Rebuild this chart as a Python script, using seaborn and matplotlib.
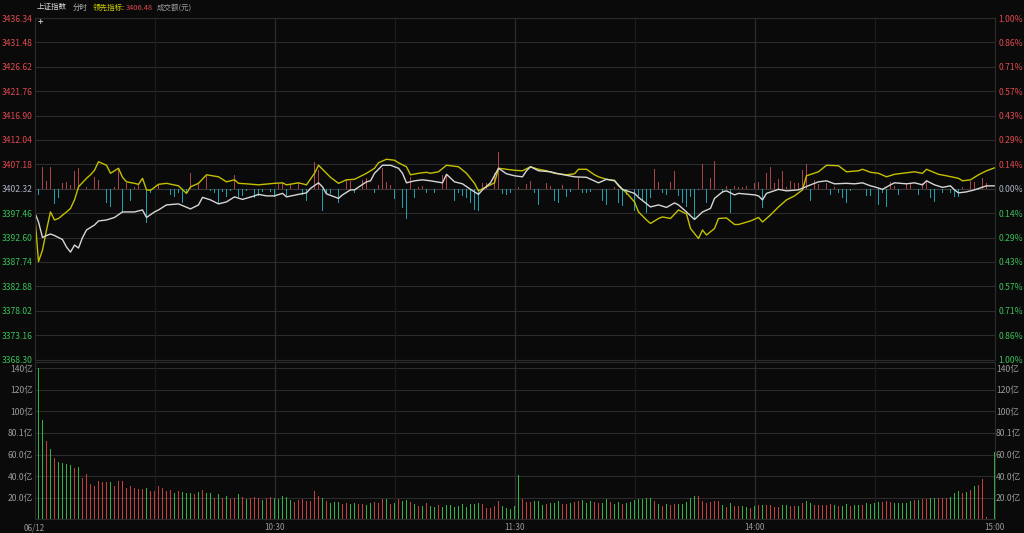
import matplotlib
matplotlib.use("Agg")
import matplotlib.pyplot as plt
import pandas as pd
import seaborn as sns

# ---------------- data ----------------
prev_close = 3402.32
price_ticks = [3368.30, 3373.16, 3378.02, 3382.88, 3387.74, 3392.60, 3397.46, 3402.32,
               3407.18, 3412.04, 3416.90, 3421.76, 3426.62, 3431.48, 3436.34]
price_labels = ["3368.30", "3373.16", "3378.02", "3382.88", "3387.74", "3392.60", "3397.46", "3402.32",
                "3407.18", "3412.04", "3416.90", "3421.76", "3426.62", "3431.48", "3436.34"]
pct_labels = ["1.00%", "0.86%", "0.71%", "0.57%", "0.43%", "0.29%", "0.14%", "0.00%",
              "0.14%", "0.29%", "0.43%", "0.57%", "0.71%", "0.86%", "1.00%"]
vol_ticks = [20, 40, 60, 80.1, 100, 120, 140]
vol_labels = ["20.0亿", "40.0亿", "60.0亿", "80.1亿", "100亿", "120亿", "140亿"]
time_ticks = [0, 60, 120, 180, 240]
time_labels = ["06/12", "10:30", "11:30", "14:00", "15:00"]

# index (white) line, minute index -> price
white_t = [0, 1, 2, 3, 4, 5, 6, 7, 8, 9, 10, 11, 12, 13, 15, 16, 18, 20, 22, 25, 27, 28, 30, 31,
           33, 36, 39, 41, 42, 44, 46, 48, 50, 52, 55, 56, 58, 60, 62, 63, 66, 68, 69, 71, 72, 73,
           76, 77, 79, 80, 83, 84, 85, 87, 89, 91, 92, 93, 95, 97, 99, 102, 103, 105, 107, 109,
           111, 112, 114, 116, 118, 120, 122, 123, 124, 126, 129, 131, 133, 135, 138, 141, 143,
           145, 147, 150, 151, 154, 156, 158, 160, 161, 163, 165, 167, 169, 170, 172, 173, 175,
           176, 180, 181, 182, 183, 186, 188, 191, 194, 196, 198, 200, 203, 205, 207, 209, 210,
           212, 214, 215, 218, 220, 222, 223, 225, 227, 229, 230, 231, 233, 235, 238, 240]
white_p = [3397.7, 3395.7, 3392.6, 3393.0, 3393.3, 3393.0, 3392.6, 3392.2, 3390.7, 3389.7, 3391.1,
           3390.5, 3392.6, 3394.1, 3395.1, 3395.9, 3396.1, 3396.6, 3397.7, 3397.7, 3398.1, 3396.6,
           3397.7, 3398.1, 3399.1, 3399.3, 3398.3, 3399.1, 3400.6, 3400.1, 3399.3, 3399.7, 3400.7,
           3400.2, 3400.9, 3401.2, 3400.9, 3400.9, 3401.4, 3400.7, 3401.2, 3401.5, 3402.4, 3403.5,
           3402.7, 3401.3, 3400.4, 3401.1, 3402.1, 3402.1, 3403.7, 3403.9, 3405.4, 3407.0, 3407.0,
           3406.4, 3405.4, 3403.5, 3403.9, 3404.1, 3403.9, 3403.5, 3405.2, 3403.7, 3403.3, 3402.2,
           3401.2, 3402.1, 3403.5, 3406.4, 3405.3, 3404.9, 3404.7, 3405.9, 3406.7, 3405.9, 3405.7,
           3405.3, 3405.0, 3404.7, 3404.6, 3403.5, 3404.2, 3403.9, 3402.2, 3401.4, 3400.6, 3398.7,
           3399.1, 3398.6, 3399.5, 3399.1, 3397.7, 3396.2, 3397.7, 3398.4, 3400.4, 3401.7, 3401.9,
           3401.1, 3401.4, 3401.1, 3400.9, 3400.1, 3401.4, 3402.2, 3401.9, 3402.1, 3403.1, 3403.7,
           3403.9, 3403.3, 3403.4, 3403.3, 3403.5, 3402.9, 3402.7, 3402.2, 3403.1, 3403.5, 3403.3,
           3403.5, 3403.1, 3403.9, 3403.1, 3402.6, 3402.9, 3402.1, 3401.5, 3401.7, 3402.1, 3402.9,
           3402.9]

# leading index (yellow) line
yellow_t = [0, 1, 2, 3, 4, 5, 6, 8, 9, 10, 11, 13, 14, 15, 16, 18, 19, 21, 22, 23, 25, 26, 27,
            28, 29, 31, 33, 36, 38, 39, 41, 43, 46, 48, 50, 51, 53, 56, 60, 62, 63, 66, 68, 70,
            71, 73, 74, 76, 78, 80, 83, 85, 86, 88, 90, 91, 93, 94, 96, 98, 99, 101, 103, 106,
            108, 110, 111, 113, 115, 116, 118, 120, 122, 124, 126, 128, 130, 133, 135, 136, 138,
            140, 141, 143, 145, 146, 148, 150, 151, 153, 154, 156, 157, 159, 161, 163, 164, 166,
            167, 168, 170, 171, 173, 175, 176, 179, 181, 182, 184, 186, 188, 190, 192, 193, 196,
            198, 201, 203, 206, 207, 209, 211, 213, 215, 217, 220, 222, 223, 226, 228, 231, 232,
            234, 236, 238, 240]
yellow_p = [3397.7, 3387.8, 3390.1, 3394.1, 3397.7, 3396.1, 3396.4, 3397.7, 3398.4, 3400.1, 3402.7,
            3404.4, 3405.1, 3406.0, 3407.7, 3407.0, 3405.4, 3406.4, 3404.6, 3403.7, 3403.4, 3403.2,
            3404.4, 3402.1, 3402.0, 3403.2, 3403.4, 3402.9, 3401.4, 3402.7, 3403.4, 3405.1, 3404.7,
            3403.7, 3404.1, 3403.4, 3403.3, 3403.1, 3403.4, 3403.5, 3403.1, 3403.5, 3403.1, 3405.4,
            3407.0, 3405.4, 3404.6, 3403.4, 3404.1, 3404.2, 3405.4, 3406.4, 3407.5, 3408.2, 3408.0,
            3407.5, 3406.7, 3405.1, 3405.4, 3405.6, 3405.4, 3405.7, 3407.0, 3406.7, 3405.4, 3403.4,
            3401.9, 3402.7, 3403.5, 3406.4, 3406.2, 3406.0, 3405.9, 3406.7, 3406.2, 3405.9, 3405.4,
            3405.1, 3405.3, 3406.2, 3406.2, 3405.1, 3404.7, 3404.2, 3404.0, 3402.9, 3401.5, 3399.7,
            3397.7, 3396.1, 3395.4, 3396.4, 3396.7, 3396.4, 3398.1, 3397.3, 3394.4, 3392.4, 3394.1,
            3393.1, 3394.4, 3396.4, 3396.5, 3395.2, 3395.2, 3395.9, 3396.6, 3395.7, 3397.1, 3398.7,
            3400.1, 3400.9, 3402.1, 3404.9, 3405.7, 3407.0, 3406.9, 3405.7, 3405.9, 3406.2, 3405.6,
            3405.4, 3404.7, 3405.2, 3405.4, 3405.7, 3405.4, 3406.2, 3405.2, 3404.9, 3404.4, 3403.9,
            3404.1, 3405.1, 3405.9, 3406.48]

# buy/sell strength bars (index points above / below previous close)
flow_t = [1, 2, 3, 4, 5, 6, 7, 8, 9, 10, 11, 13, 15, 16, 18, 19, 20, 21, 22, 23, 24, 25, 26, 28,
          29, 31, 34, 35, 36, 37, 38, 39, 41, 43, 44, 45, 46, 47, 48, 49, 50, 51, 52, 53, 55, 56,
          57, 59, 60, 61, 62, 63, 64, 66, 67, 68, 70, 71, 72, 73, 74, 76, 78, 79, 80, 82, 83, 85,
          86, 87, 88, 89, 90, 92, 93, 94, 95, 96, 97, 98, 100, 102, 103, 105, 106, 107, 108, 109,
          110, 111, 112, 113, 115, 116, 117, 118, 119, 121, 123, 124, 125, 126, 128, 129, 130,
          131, 132, 133, 134, 136, 137, 138, 139, 142, 143, 145, 146, 147, 148, 150, 151, 152,
          153, 154, 155, 156, 157, 158, 159, 160, 161, 162, 163, 164, 165, 166, 167, 168, 169,
          170, 172, 173, 174, 175, 176, 177, 178, 180, 181, 182, 183, 184, 185, 186, 187, 188,
          189, 190, 191, 192, 193, 194, 195, 196, 198, 199, 200, 201, 202, 203, 204, 208, 209,
          211, 212, 213, 214, 215, 216, 218, 219, 221, 222, 223, 224, 225, 227, 229, 230, 231,
          232, 234, 235, 236, 237, 238]
flow_v = [-1.26, 4.39, 1.6, 4.26, -3.06, -1.93, 1.06, 1.26, 0.73, 3.6, 4.06, 0.4, 2.26, 1.73, -2.93,
          -3.6, 0.27, 4.06, -4.79, 1.06, -2.4, 0.4, 0.93, -6.92, -0.8, 0.93, -1.26, -1.6, -0.8,
          -2.79, -1.06, 3.2, 1.06, 2.53, -0.4, -0.93, -2.93, -0.6, -1.6, -0.4, 2.73, -1.73, -1.46,
          -0.4, -1.93, -1.46, -0.6, -0.6, -1.73, 0.93, 1.06, -1.46, 0.93, 1.06, -1.26, -2.4, 5.39,
          3.73, -4.39, -1.06, -1.06, -2.93, 1.86, 1.6, -0.8, 1.73, 2.06, -0.8, 0.73, 4.06, 1.4,
          0.73, -2.0, -3.93, -5.93, 2.26, -1.93, 0.4, 0.53, -0.8, -0.8, 2.73, 2.93, -2.4, -0.93,
          -1.46, -1.9, -2.93, -4.26, -4.39, 1.1, 1.2, 3.06, 7.39, -1.06, -1.26, -0.8, 0.4, 0.93,
          1.6, -0.93, -3.26, 1.06, 0.53, -2.4, -2.93, 0.73, -1.6, -0.6, 2.4, -0.8, -0.93, -0.6,
          -2.4, -3.26, 0.4, -2.79, -3.46, -1.26, -4.39, -1.46, -2.26, -4.92, -1.93, 3.86, 1.4,
          -0.93, -1.26, 1.4, 3.53, -1.46, -2.93, -3.59, -1.6, -6.25, -0.27, 4.92, -2.93, 2.06,
          5.59, -0.93, 0.53, -4.92, 0.53, 0.27, 0.4, 0.53, 1.06, 1.4, -3.93, 3.06, 4.39, 1.06,
          1.86, 3.59, 0.4, 1.6, 1.06, 1.2, 3.73, 4.92, -2.4, 1.73, 0.93, 1.06, -1.26, 0.4, -0.8,
          -1.93, -2.93, -0.4, -1.46, -1.46, -3.26, -0.93, -3.59, 1.4, 0.53, -1.26, 1.06, 0.93,
          -1.26, 1.06, 1.6, -1.93, -2.59, -0.93, -0.8, -1.73, -1.6, 0.27, 1.6, 1.4, -0.27, 2.06,
          1.06]

# turnover per minute (亿元), 09:30 .. 15:00
volume = [40, 140, 92, 73, 65, 56.6, 53.4, 52, 51.3, 50.4,
          47.3, 48.2, 38.6, 41.7, 32.5, 31.2, 35.2, 35, 34.5, 34.3,
          30.9, 35.2, 35.5, 28.7, 30.6, 28.7, 28.1, 28, 29.2, 26.3,
          26, 30.6, 28.7, 26.3, 27.2, 24.1, 26.3, 25.4, 24.1, 24.7,
          23.5, 25.4, 27.2, 24.4, 24.7, 20.1, 23.2, 20.1, 21.6, 18.8,
          20.1, 23.2, 21.1, 18.5, 20.1, 20.4, 19.5, 17.9, 20.1, 20.4,
          19.8, 18.8, 21.6, 20.7, 17.9, 16.4, 17.9, 19.1, 17.3, 17.3,
          26.3, 21.3, 19.5, 17, 15.4, 15.7, 16, 14.2, 14.8, 13.9,
          14.8, 13.9, 13.9, 13.3, 15.4, 16, 15.1, 18.5, 18.5, 14.2,
          15.4, 18.8, 16.7, 17.9, 15.7, 13.9, 12.7, 12.7, 15.1, 12.7,
          11.7, 13.6, 11.1, 13.3, 13, 11.7, 12.4, 14.2, 11.7, 13.9,
          13.9, 15.4, 13.9, 10.5, 10.8, 12.4, 17.3, 12.4, 10.2, 9.3,
          12.4, 41.1, 18.8, 15.7, 16, 17.3, 16.7, 13.3, 13.9, 15.4,
          15.4, 17.3, 14.2, 14.5, 15.1, 16, 17, 17.9, 15.4, 16.7,
          15.7, 14.8, 15.1, 18.8, 16, 14.2, 15.7, 14.5, 15.1, 16,
          17.9, 18.5, 18.5, 20.1, 20.1, 17.3, 13.9, 12.7, 13.9, 13.3,
          14.2, 13.9, 13.9, 15.7, 19.8, 22, 21.3, 17, 15.1, 16,
          16.7, 17.3, 13.3, 11.1, 15.4, 12.1, 12.4, 12.4, 11.7, 10.8,
          12.1, 13.3, 13.3, 13.3, 13.3, 11.4, 11.4, 13.3, 13.3, 12.7,
          12.7, 12.1, 15.1, 17.3, 15.1, 13.3, 13.3, 13.3, 13, 13.9,
          13, 12.4, 12.7, 14.2, 12.4, 13.3, 13.3, 13.3, 15.1, 14.2,
          15.1, 16, 16.4, 17, 15.7, 15.4, 15.4, 15.1, 15.4, 16.7,
          17.6, 17.9, 18.5, 18.8, 19.5, 20.1, 20.1, 20.1, 19.8, 20.7,
          24.4, 26, 24.7, 25.4, 27.2, 30.6, 32.2, 37.5, 2, 0,
          62]
# r = up minute, g = down minute
vol_side = ("gggrgrgggg" "rgrrrrrrrg" "rrrrrrrrgr" "rrrrrgrggg" "rgrggrgrgr"
            "rgrgrrrgrr" "gggggrrrrr" "rrgrgggrrg" "grrggrrrgr" "grggrgrgrg"
            "grgggggggg" "ggrrrrrggg" "ggrrrgggrg" "ggrrgrrggg" "rrggrggrgg"
            "gggggrgrgr" "rgggggrrrr" "rrgrgrrggr" "grgrrrrggr" "rgrggrrrrr"
            "grggrggrgg" "ggrrrggggg" "rgrrggrrrg" "ggrgrgrrrr" "g")

# ---------------- style ----------------
BG = "#0a0a0a"
GRID = "#1c1c1c"
GRID_MAJOR = "#2c2c2c"
UP = "#e0484f"
DOWN = "#3cc05a"
FLAT = "#aab4c4"

sns.set_style("dark")
plt.rcParams["font.family"] = ["Noto Sans CJK SC", "DejaVu Sans"]
plt.rcParams["axes.facecolor"] = BG
plt.rcParams["figure.facecolor"] = BG
plt.rcParams["patch.force_edgecolor"] = False

W, H = 1024, 533
X0, X1 = 34.5, 994.5   # 4 px per minute


def box(x0, y0, x1, y1):
    return [x0 / W, 1 - y1 / H, (x1 - x0) / W, (y1 - y0) / H]


fig = plt.figure(figsize=(W / 100, H / 100), dpi=100)
ax_price = fig.add_axes(box(X0, 18, X1, 359.5))
ax_flow = ax_price.twinx()
ax_vol = fig.add_axes(box(X0, 362, X1, 519.3))

half = price_ticks[-1] - prev_close
ax_flow.set_facecolor(BG)
ax_price.set_zorder(ax_flow.get_zorder() + 1)
ax_price.patch.set_visible(False)

# grid
for p in price_ticks:
    ax_flow.axhline(p - prev_close, color="#383838" if p == prev_close else GRID_MAJOR, lw=0.8, zorder=0)
for v in vol_ticks:
    ax_vol.axhline(v, color=GRID_MAJOR, lw=0.8, zorder=0)
for t in range(30, 240, 30):
    c = GRID_MAJOR if t % 60 == 0 else GRID
    ax_flow.axvline(t, color=c, lw=0.9, zorder=0)
    ax_vol.axvline(t, color=c, lw=0.9, zorder=0)

bar_kw = dict(native_scale=True, width=0.3, errorbar=None, saturation=1,
              linewidth=0, edgecolor="none", antialiased=False)

# strength bars, one call per colour
flow = pd.DataFrame({"t": flow_t, "v": flow_v})
for sign, col in ((1, "#a84646"), (-1, "#1ca0aa")):
    part = flow[flow["v"] * sign > 0]
    sns.barplot(data=part, x="t", y="v", color=col, ax=ax_flow, **bar_kw)

# lines
sns.lineplot(x=yellow_t, y=yellow_p, color="#c4c000", lw=1.0, ax=ax_price)
sns.lineplot(x=white_t, y=white_p, color="#d6d6d6", lw=1.0, ax=ax_price)

# volume bars, one call per colour
vol = pd.DataFrame({"t": range(len(volume)), "v": volume, "side": list(vol_side)})
for side, col in (("r", "#c24040"), ("g", "#30b246")):
    part = vol[vol["side"] == side]
    sns.barplot(data=part, x="t", y="v", color=col, ax=ax_vol, **bar_kw)

# limits
for ax in (ax_price, ax_flow, ax_vol):
    ax.set_xlim(0, 240)
ax_price.set_ylim(price_ticks[0], price_ticks[-1])
ax_flow.set_ylim(-half, half)
ax_vol.set_ylim(0, 140 * (519.3 - 362) / (519.3 - 368.3))

# ticks
FS = 6.2
ax_price.set_yticks(price_ticks)
ax_price.set_yticklabels(price_labels)
ax_flow.set_yticks([p - prev_close for p in price_ticks])
ax_flow.set_yticklabels(pct_labels)
for lab_l, lab_r, p in zip(ax_price.get_yticklabels(), ax_flow.get_yticklabels(), price_ticks):
    c = UP if p > prev_close else (DOWN if p < prev_close else FLAT)
    lab_l.set_color(c)
    lab_r.set_color(c)
ax_price.tick_params(axis="y", length=0, pad=1, labelsize=FS)
ax_flow.tick_params(axis="y", length=0, pad=3, labelsize=FS)
ax_price.set_xticks([])
ax_flow.set_xticks([])

ax_vol.set_yticks(vol_ticks)
ax_vol.set_yticklabels(vol_labels)
ax_vol.tick_params(axis="y", length=0, pad=1, labelsize=FS, labelcolor="#9a9a9a",
                   labelleft=True, labelright=True)
ax_vol.set_xticks(time_ticks)
ax_vol.set_xticklabels(time_labels)
ax_vol.tick_params(axis="x", length=0, pad=3, labelsize=5.8, labelcolor="#9a9a9a")
for ax in (ax_price, ax_flow, ax_vol):
    ax.set_xlabel("")
    ax.set_ylabel("")
    for s in ax.spines.values():
        s.set_color(GRID_MAJOR)
        s.set_linewidth(0.8)
ax_price.grid(False)
ax_flow.grid(False)
ax_vol.grid(False)

# header
TS = 5.4
fig.text(37 / W, 1 - 7.5 / H, "上证指数", color="#dcdcdc", fontsize=TS, va="center")
fig.text(73 / W, 1 - 7.5 / H, "分时", color="#b0b0b0", fontsize=TS, va="center")
fig.text(93 / W, 1 - 7.5 / H, "领先指标:", color="#d4d000", fontsize=TS, va="center")
fig.text(126 / W, 1 - 7.5 / H, f"{yellow_p[-1]:.2f}", color=UP, fontsize=TS, va="center")
fig.text(157 / W, 1 - 7.5 / H, "成交额(元)", color="#a0a0a0", fontsize=TS, va="center")
fig.text(40 / W, 1 - 22 / H, "+", color="#e0e0e0", fontsize=7, va="center", ha="center")

fig.savefig("out.png", dpi=100, facecolor=BG)
